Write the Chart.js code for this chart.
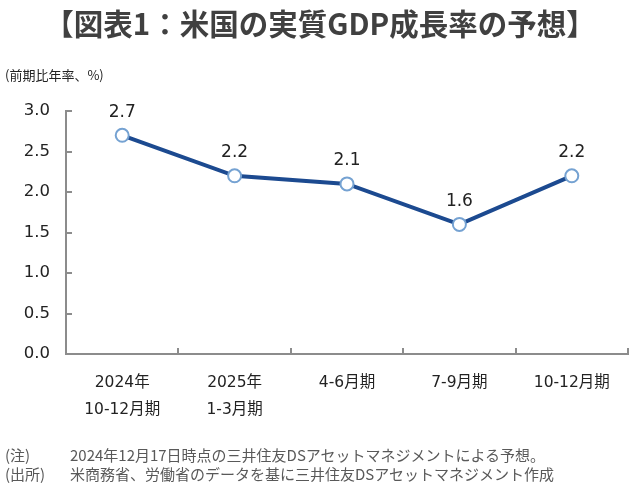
<!DOCTYPE html>
<html lang="ja">
<head>
    <meta charset="UTF-8">
    <title>米国の実質GDP成長率の予想</title>
    <script src="https://cdn.jsdelivr.net/npm/chart.js"></script>
    <style>
        body { margin: 0; background: #fff; }
        #wrap { position: relative; width: 640px; height: 493px; overflow: hidden; font-family: "Noto Sans CJK JP", sans-serif; }
        #gdpChart { position: absolute; left: 0; top: 0; }
        .title { position: absolute; left: 0; width: 640px; top: 2px; text-align: center; font-size: 29.5px; font-weight: bold; color: #404040; line-height: 40px; }
        .unit { position: absolute; left: 5px; top: 65px; font-size: 13px; color: #222; line-height: 20px; }
        .note { position: absolute; left: 5px; font-size: 15px; color: #595959; line-height: 19px; white-space: nowrap; }
        .note span { display: inline-block; width: 65px; }
    </style>
</head>
<body>
<div id="wrap">
    <canvas id="gdpChart" width="640" height="493"></canvas>
    <div class="title">【図表1：米国の実質GDP成長率の予想】</div>
    <div class="unit">(前期比年率、%)</div>
    <div class="note" style="top:445px"><span>(注)</span>2024年12月17日時点の三井住友DSアセットマネジメントによる予想。</div>
    <div class="note" style="top:464px"><span>(出所)</span>米商務省、労働省のデータを基に三井住友DSアセットマネジメント作成</div>
</div>

<script>
    // データ
    const quarters = [['2024年', '10-12月期'], ['2025年', '1-3月期'], '4-6月期', '7-9月期', '10-12月期'];
    const growth = [2.7, 2.2, 2.1, 1.6, 2.2];
    const yTicks = [0, 0.5, 1.0, 1.5, 2.0, 2.5, 3.0];

    const axisColor = '#8c8c8c';
    const numFont = '"DejaVu Sans", "Noto Sans CJK JP", sans-serif';

    // 内向きの目盛り線
    const innerTicks = {
        id: 'innerTicks',
        afterDraw(chart) {
            const ctx = chart.ctx;
            const x = chart.scales.x, y = chart.scales.y;
            ctx.save();
            ctx.strokeStyle = axisColor;
            ctx.lineWidth = 2;
            ctx.beginPath();
            yTicks.forEach(v => {
                const py = Math.round(y.getPixelForValue(v));
                ctx.moveTo(x.left, py);
                ctx.lineTo(x.left + 6, py);
            });
            const step = (x.right - x.left) / quarters.length;
            for (let i = 1; i <= quarters.length; i++) {
                const px = Math.round(x.getPixelForValue(i - 1) + step / 2);
                ctx.moveTo(px, y.bottom);
                ctx.lineTo(px, y.bottom - 6);
            }
            ctx.stroke();
            ctx.restore();
        }
    };

    // データラベル
    const valueLabels = {
        id: 'valueLabels',
        afterDatasetsDraw(chart) {
            const ctx = chart.ctx;
            const meta = chart.getDatasetMeta(0);
            ctx.save();
            ctx.font = '17px ' + numFont;
            ctx.fillStyle = '#222';
            ctx.textAlign = 'center';
            ctx.textBaseline = 'middle';
            meta.data.forEach((pt, i) => {
                ctx.fillText(growth[i].toFixed(1), pt.x, pt.y - 23);
            });
            ctx.restore();
        }
    };

    new Chart(document.getElementById('gdpChart'), {
        type: 'line',
        data: {
            labels: quarters,
            datasets: [{
                data: growth,
                borderColor: '#1c4a90',
                borderWidth: 4,
                pointRadius: 6.5,
                pointBorderWidth: 2,
                pointBorderColor: '#75a2d2',
                pointBackgroundColor: '#ffffff',
                tension: 0
            }]
        },
        options: {
            responsive: false,
            animation: false,
            layout: { padding: { top: 111, right: 12, left: 0, bottom: 0 } },
            plugins: { legend: { display: false }, tooltip: { enabled: false } },
            scales: {
                x: {
                    offset: true,
                    grid: { display: false },
                    border: { display: true, color: axisColor, width: 2 },
                    ticks: {
                        color: '#222',
                        padding: 8,
                        maxRotation: 0,
                        font: { family: numFont, size: 15.5, lineHeight: 1.7 }
                    },
                    afterFit(scale) { scale.height = 139; }
                },
                y: {
                    min: 0,
                    max: 3.0,
                    afterBuildTicks(scale) { scale.ticks = yTicks.map(v => ({ value: v })); },
                    grid: { display: false },
                    border: { display: true, color: axisColor, width: 2 },
                    ticks: {
                        color: '#222',
                        padding: 8,
                        font: { family: numFont, size: 16.5 },
                        callback: v => v.toFixed(1)
                    },
                    afterFit(scale) { scale.width = 66; }
                }
            }
        },
        plugins: [innerTicks, valueLabels]
    });
</script>
</body>
</html>
